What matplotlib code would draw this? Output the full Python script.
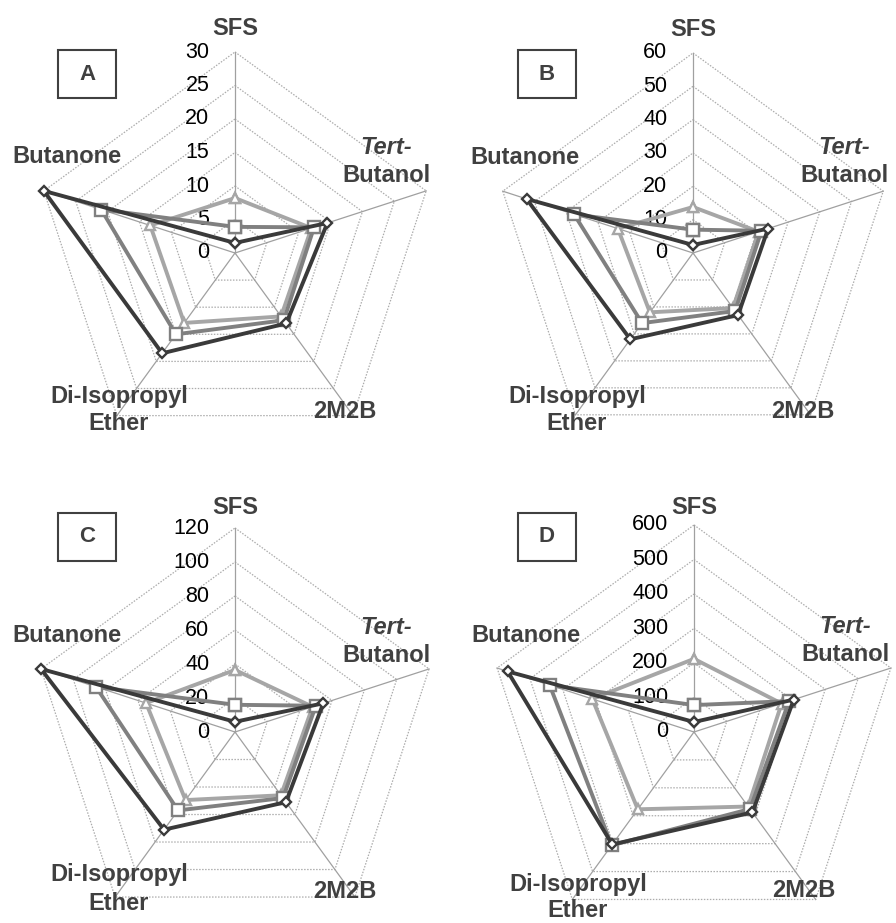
import matplotlib
matplotlib.use("Agg")
import matplotlib.pyplot as plt
from matplotlib.patches import Rectangle
import numpy as np

plt.rcParams['font.family'] = ['Liberation Sans', 'DejaVu Sans']

# solvents around the radar, clockwise from the top
solvents = ['SFS', 'Tert-Butanol', '2M2B', 'Di-Isopropyl Ether', 'Butanone']

panels = ['A', 'B', 'C', 'D']
rmax = {'A': 30, 'B': 60, 'C': 120, 'D': 600}
rstep = {'A': 5, 'B': 10, 'C': 20, 'D': 100}

# three series per panel (dark / medium / light)
dark = {
    'A': [1.5, 14.5, 13, 18.5, 30],
    'B': [2.4, 23.7, 23, 32, 52.5],
    'C': [6, 54.6, 51, 71, 120],
    'D': [29, 304, 288, 403, 568],
}
medium = {
    'A': [3.9, 12.4, 12.4, 15, 21],
    'B': [7, 21.6, 21.5, 26, 37.5],
    'C': [16, 50, 48, 57, 86],
    'D': [78, 290, 276, 406, 440],
}
light = {
    'A': [8.2, 12, 11.7, 12.9, 13.3],
    'B': [13.8, 20.7, 20.4, 22, 23.7],
    'C': [36.5, 48, 46, 49.5, 55],
    'D': [212, 267, 267, 277, 310],
}

W, H = 896, 923
fig = plt.figure(figsize=(W / 100, H / 100), dpi=100)

# centre (px from top-left) and radius (px) of each radar
geom = {
    'A': (235, 253, 201),
    'B': (693, 253, 200),
    'C': (235, 732, 204),
    'D': (694, 732, 207),
}
boxes = {'A': (58, 50), 'B': (518, 50), 'C': (58, 513), 'D': (518, 513)}

lab_col = '#404040'
theta = np.arange(5) * 2 * np.pi / 5
closed = np.append(theta, theta[0])

for p in panels:
    cx, cy, r = geom[p]
    ax = fig.add_axes([(cx - r) / W, 1 - (cy + r) / H, 2 * r / W, 2 * r / H],
                      projection='polar')
    ax.set_theta_offset(np.pi / 2)
    ax.set_theta_direction(-1)
    ax.set_ylim(0, rmax[p])
    ax.grid(False)
    ax.spines['polar'].set_visible(False)
    ax.set_xticks([])
    ax.set_yticks([])
    ax.patch.set_alpha(0)

    ticks = np.arange(0, rmax[p] + 1, rstep[p])
    for t in ticks[1:]:
        ax.plot(closed, [t] * 6, color='#acacac', lw=0.9, ls=(0, (1.2, 1.2)),
                zorder=1, clip_on=False)
    for th in theta:
        ax.plot([th, th], [0, rmax[p]], color='#a0a0a0', lw=0.9, zorder=1,
                clip_on=False)
    for t in ticks:
        ax.annotate(str(t), xy=(0, t), xytext=(-18.5, 0), textcoords='offset points',
                    ha='right', va='center', fontsize=15.5, color='black')

    series = [
        (light[p], '#a6a6a6', '^', 7.5),
        (medium[p], '#808080', 's', 8.5),
        (dark[p], '#3a3a3a', 'D', 5.5),
    ]
    for vals, col, mk, ms in series:
        v = vals + [vals[0]]
        ax.plot(closed, v, color=col, lw=2.8, marker=mk, ms=ms, mfc='white',
                mec=col, mew=1.7, zorder=3, clip_on=False)

    # category labels, offsets in px from centre
    def put(dx, dy, s, style='normal'):
        ax.text(0.5 + dx / (2 * r), 0.5 - dy / (2 * r), s, transform=ax.transAxes,
                ha='center', va='center', fontsize=17, fontweight='bold',
                fontstyle=style, color=lab_col)

    put(0, -224, 'SFS')
    put(151, -105, 'Tert-', 'italic')
    put(151, -77, 'Butanol')
    put(-168, -96, 'Butanone')
    dyi = 153 if p == 'D' else 143
    put(-116, dyi, 'Di-Isopropyl')
    put(-116, dyi + (26 if p == 'D' else 28), 'Ether')
    put(110, 159, '2M2B')

    bx, by = boxes[p]
    fig.add_artist(Rectangle((bx / W, 1 - (by + 48) / H), 58 / W, 48 / H,
                             transform=fig.transFigure, fill=False,
                             edgecolor='#404040', lw=1.5))
    fig.text((bx + 29) / W, 1 - (by + 24) / H, p, ha='center', va='center',
             fontsize=16, fontweight='bold', color=lab_col)

fig.savefig('out.png', dpi=100)
